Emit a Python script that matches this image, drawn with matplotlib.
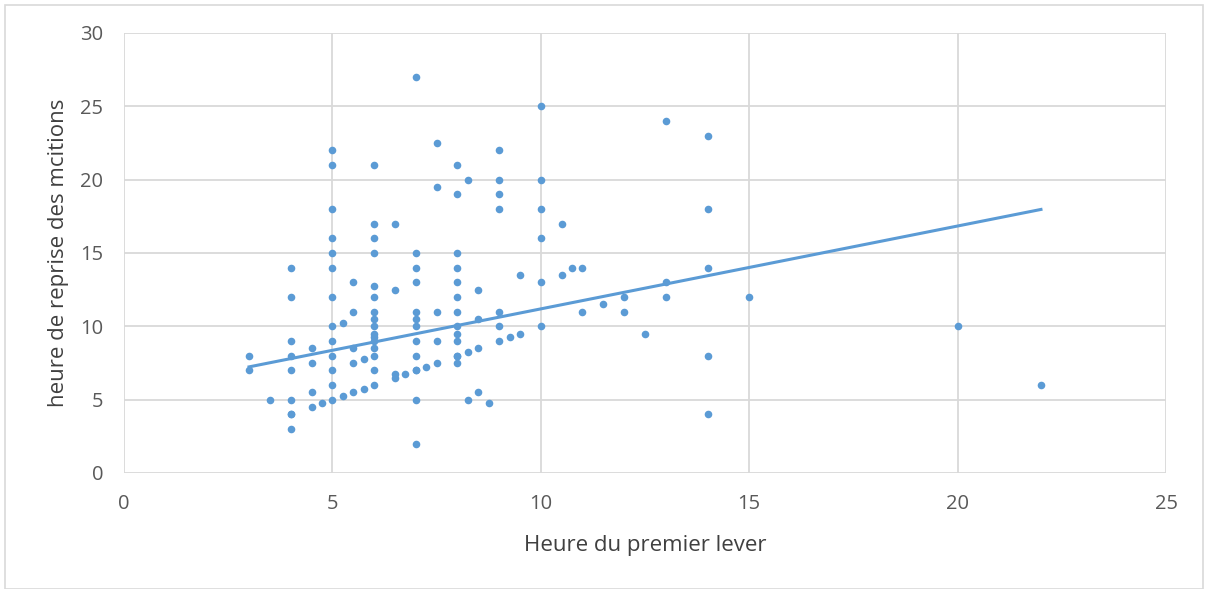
import numpy as np
import matplotlib
matplotlib.use("Agg")
import matplotlib.pyplot as plt
from matplotlib.patches import Rectangle

# Heure du premier lever (x) / heure de reprise des mictions (y)
premier_lever = (
    [3] * 2 + [3.5] + [4] * 9 + [4.5] * 4 + [4.75] + [5] * 13 + [5.25] * 2
    + [5.5] * 5 + [5.75] * 2 + [6] * 16 + [6.5] * 4 + [6.75] + [7] * 13
    + [7.25] + [7.5] * 5 + [8] * 13 + [8.25] * 3 + [8.5] * 4 + [8.75]
    + [9] * 7 + [9.25] + [9.5] * 2 + [10] * 6 + [10.5] * 2 + [10.75]
    + [11] * 2 + [11.5] + [12] * 2 + [12.5] + [13] * 3 + [14] * 5
    + [15] + [20] + [22]
)
reprise = [
    8, 7,
    5,
    14, 12, 9, 8, 7, 5, 4, 4, 3,
    8.5, 7.5, 5.5, 4.5,
    4.75,
    22, 21, 18, 16, 15, 14, 12, 10, 9, 8, 7, 6, 5,
    10.25, 5.25,
    13, 11, 8.5, 7.5, 5.5,
    7.75, 5.75,
    21, 17, 16, 15, 12.75, 12, 11, 10.5, 10, 9.5, 9.25, 9, 8.5, 8, 7, 6,
    17, 12.5, 6.75, 6.5,
    6.75,
    27, 15, 14, 13, 11, 10.5, 10, 9, 8, 7, 7, 5, 2,
    7.25,
    22.5, 19.5, 11, 9, 7.5,
    21, 19, 15, 14, 13, 12, 11, 10, 9.5, 9, 8, 8, 7.5,
    20, 8.25, 5,
    12.5, 10.5, 8.5, 5.5,
    4.75,
    22, 20, 19, 18, 11, 10, 9,
    9.25,
    13.5, 9.5,
    25, 20, 18, 16, 13, 10,
    17, 13.5,
    14,
    14, 11,
    11.5,
    12, 11,
    9.5,
    24, 13, 12,
    23, 18, 14, 8, 4,
    12,
    10,
    6,
]

# trend line as shown in the chart
trend_slope = 0.565
trend_intercept = 5.54

x_ticks = [0, 5, 10, 15, 20, 25]
y_ticks = [0, 5, 10, 15, 20, 25, 30]

plt.rcParams['font.family'] = ['Open Sans', 'DejaVu Sans']
blue = '#5b9bd5'
grid_col = '#d9d9d9'

fig = plt.figure(figsize=(12.08, 5.89), dpi=100)
ax = fig.add_axes([124 / 1208, 1 - 473 / 589, (1166 - 124) / 1208, (473 - 33) / 589])

x = np.array(premier_lever, dtype=float)
y = np.array(reprise, dtype=float)
ax.scatter(x, y, s=30, color=blue, zorder=3, linewidths=0)

xl = np.array([x.min(), x.max()])
ax.plot(xl, trend_slope * xl + trend_intercept, color=blue, lw=2.2, zorder=2)

ax.set_xlim(0, 25)
ax.set_ylim(0, 30)
ax.set_xticks(x_ticks)
ax.set_yticks(y_ticks)
ax.grid(True, color=grid_col, lw=1.3)
ax.set_axisbelow(True)
for s in ax.spines.values():
    s.set_visible(False)
ax.tick_params(length=0, labelsize=14.5, colors='#595959')
ax.tick_params(axis='y', pad=15)
ax.tick_params(axis='x', pad=15)

ax.set_xlabel('Heure du premier lever', fontsize=16, color='#404040', labelpad=15)
ax.set_ylabel('heure de reprise des mcitions', fontsize=16, color='#404040', labelpad=8)

# outer chart border
fig.patches.append(Rectangle((5 / 1208, 0), 1 - 10 / 1208, 1 - 5 / 589,
                             transform=fig.transFigure, fill=False,
                             edgecolor=grid_col, lw=1.2))

fig.savefig('out.png', dpi=100)
